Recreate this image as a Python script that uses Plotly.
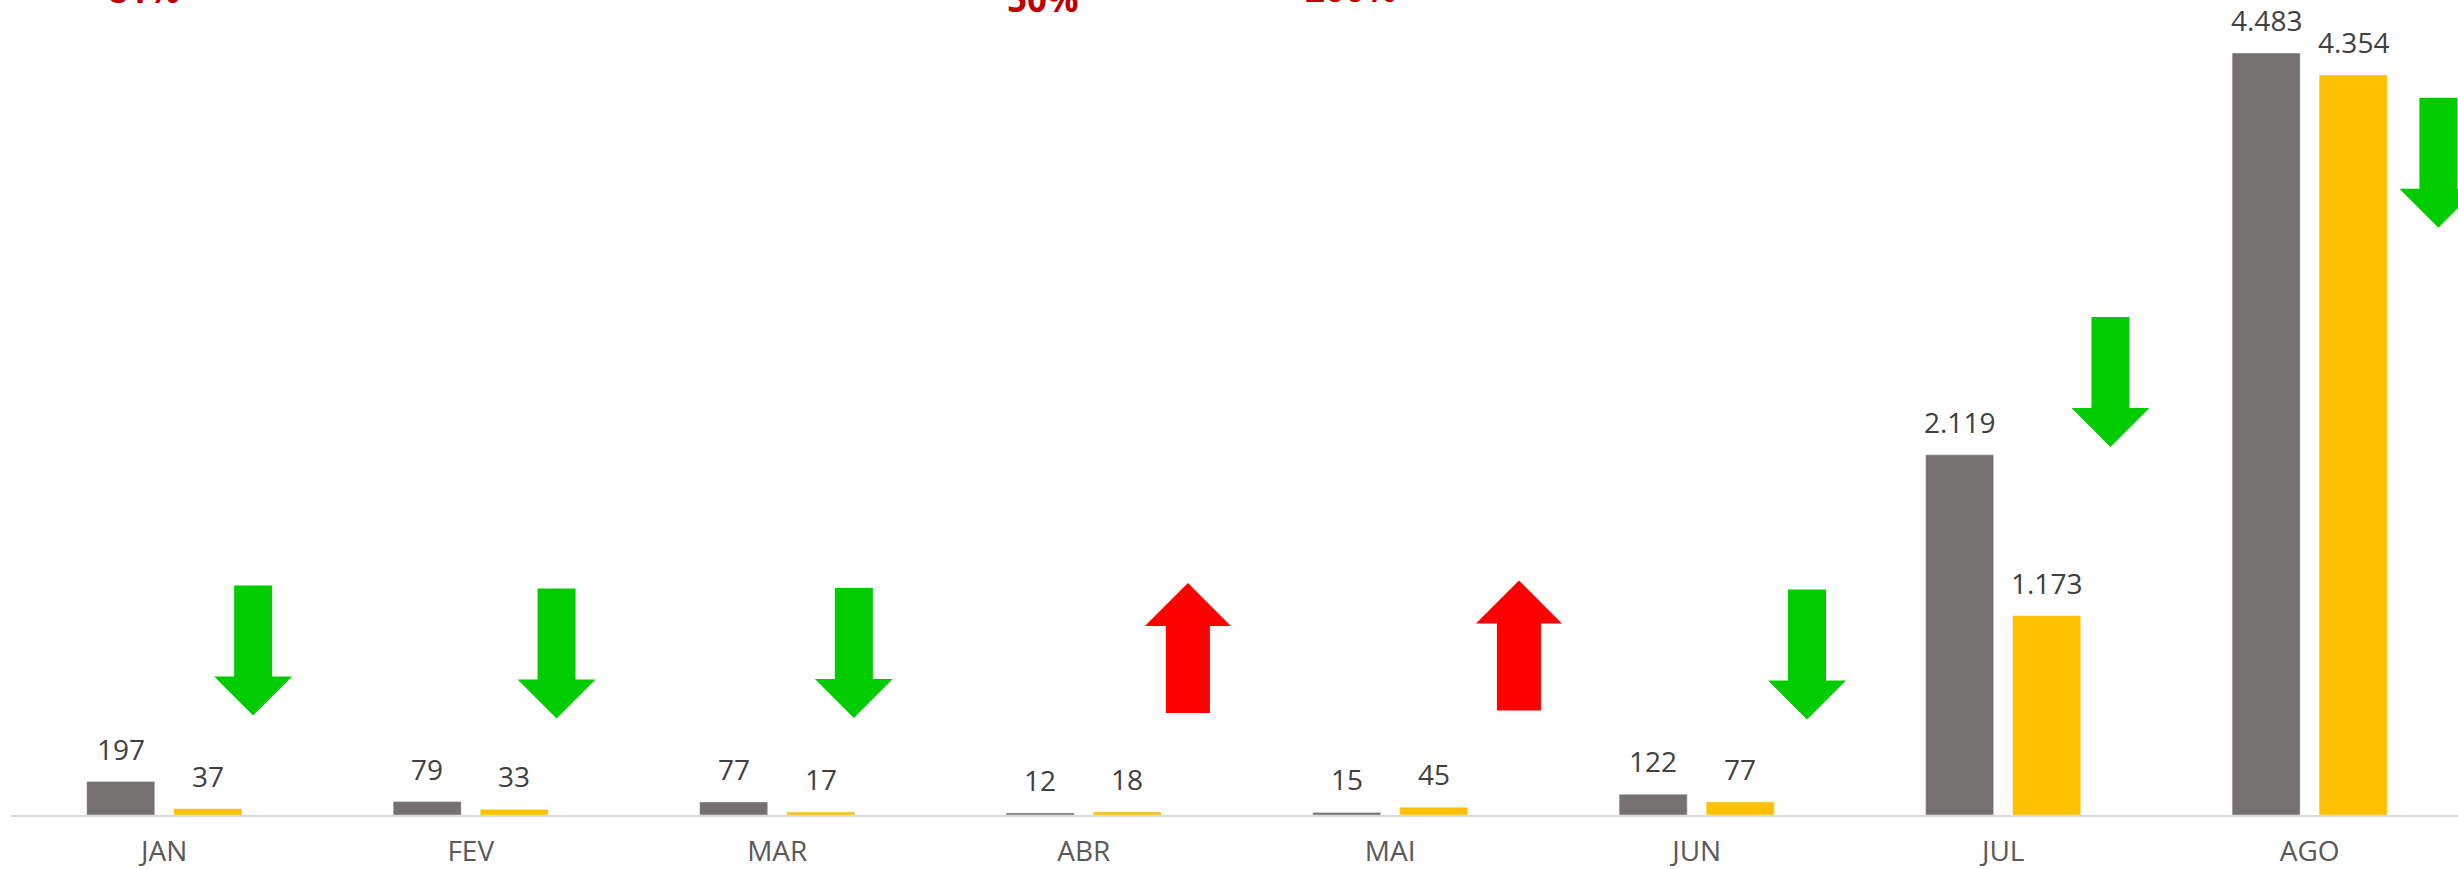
import plotly.graph_objects as go

months = ["JAN", "FEV", "MAR", "ABR", "MAI", "JUN", "JUL", "AGO"]
prev_year = [197, 79, 77, 12, 15, 122, 2119, 4483]
this_year = [37, 33, 17, 18, 45, 77, 1173, 4354]

# placement of the arrow shapes and the % labels (style only)
arrow_dx = [0.29, 0.28, 0.25, 0.34, 0.42, 0.36, 0.35, 0.42]
arrow_y = [968, 950, 953, 982, 997, 944, 2547, 3838]
pct_dx = [-0.083, -0.10, -0.10, -0.134, -0.129, -0.10, -0.10, -0.10]
pct_yshift = [-15, 80, -10, -24, -14, 80, 80, 80]

GRAY = "#767171"
GOLD = "#FFC000"
FONT = "Open Sans"

x = list(range(len(months)))


def fmt(v):
    return f"{v:,}".replace(",", ".")


fig = go.Figure()
fig.add_trace(go.Bar(x=x, y=prev_year, marker_color=GRAY, name="Anterior"))
fig.add_trace(go.Bar(x=x, y=this_year, marker_color=GOLD, name="Atual"))

annotations = []
for i in x:
    for vals, shift in ((prev_year, -43.5), (this_year, 43.5)):
        annotations.append(dict(
            x=i, y=vals[i], xref="x", yref="y", text=fmt(vals[i]),
            showarrow=False, xshift=shift, yanchor="bottom", yshift=12,
            font=dict(family=FONT, size=28, color="#404040"),
        ))
    pct = round((this_year[i] - prev_year[i]) / prev_year[i] * 100)
    annotations.append(dict(
        x=i + pct_dx[i], y=1, xref="x", yref="paper", text=f"{pct}%",
        showarrow=False, yanchor="bottom", yshift=pct_yshift[i],
        font=dict(family=FONT, size=35, color="#C00000", weight="bold"),
    ))

down_path = "M -19,65 L 19,65 L 19,-26 L 39,-26 L 0,-65 L -39,-26 L -19,-26 Z"
up_path = "M -22,-65 L 22,-65 L 22,22 L 43,22 L 0,65 L -43,22 L -22,22 Z"
shapes = []
for i in x:
    up = this_year[i] > prev_year[i]
    shapes.append(dict(
        type="path", xref="x", yref="y",
        xsizemode="pixel", ysizemode="pixel",
        xanchor=i + arrow_dx[i], yanchor=arrow_y[i],
        path=up_path if up else down_path,
        fillcolor="#FF0000" if up else "#00CC00",
        line=dict(width=0),
    ))

fig.update_layout(
    width=2458, height=869,
    margin=dict(l=11, r=0, t=0, b=54),
    plot_bgcolor="white", paper_bgcolor="white",
    barmode="group", bargap=0.432, bargroupgap=0.218,
    showlegend=False,
    annotations=annotations, shapes=shapes,
    xaxis=dict(
        range=[-0.5, 7.484], tickvals=x, ticktext=months,
        showline=True, linecolor="#D9D9D9", linewidth=2,
        showgrid=False, zeroline=False, ticks="",
        ticklabelstandoff=10, automargin=False,
        tickfont=dict(family=FONT, size=28, color="#595959"),
    ),
    yaxis=dict(range=[0, 4795], visible=False, automargin=False),
)

fig.write_html(
    "out.html",
    config={"displayModeBar": False},
    post_script="document.body.style.margin='0px';",
)
